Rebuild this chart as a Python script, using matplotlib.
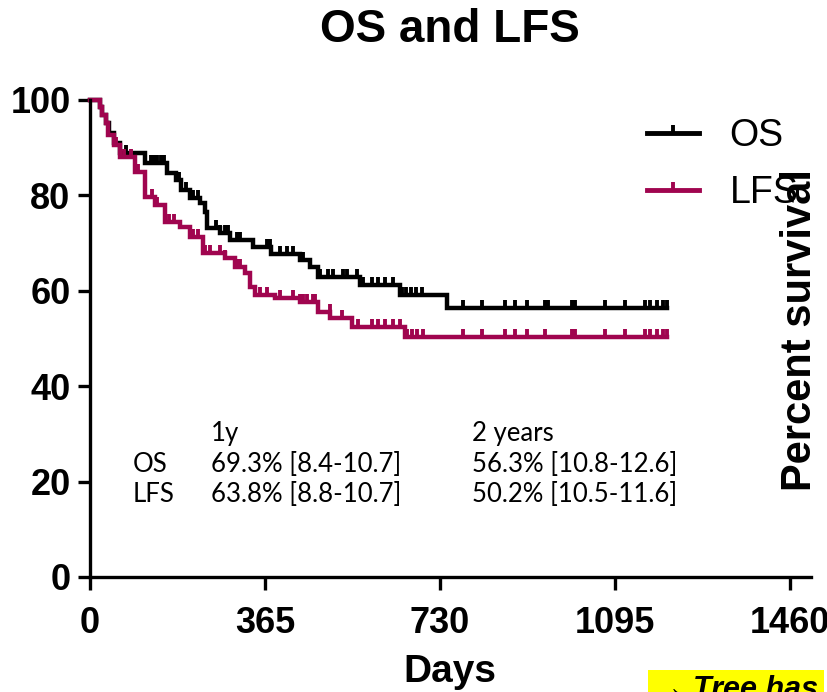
import numpy as np
import matplotlib
matplotlib.use('Agg')
import matplotlib.pyplot as plt
from matplotlib.path import Path
from matplotlib.lines import Line2D

# step curves: day of each drop and the level after it
os_days = [0, 20, 26, 33, 40, 50, 62, 115, 160, 180, 190, 208, 230, 240, 244, 271, 292, 340, 377, 438, 459, 475, 563, 647, 745, 1203]
os_surv = [100, 98.5, 96.9, 95.2, 93.1, 91.0, 88.9, 86.8, 84.7, 83.2, 81.1, 79.5, 78.4, 76.5, 73.2, 72.1, 70.6, 69.2, 67.7, 66.5, 65.0, 62.9, 61.2, 59.1, 56.4, 56.4]

lfs_days = [0, 20, 26, 33, 38, 50, 63, 94, 115, 136, 156, 188, 208, 236, 282, 302, 323, 334, 344, 386, 438, 475, 501, 547, 657, 1203]
lfs_surv = [100, 98.5, 96.9, 95.2, 92.7, 90.6, 88.1, 84.9, 79.7, 78.0, 74.4, 73.4, 71.3, 68.0, 66.9, 65.0, 63.7, 60.8, 59.1, 58.5, 57.7, 55.6, 54.3, 52.4, 50.3, 50.3]

# censored observations
os_cens = [21, 75, 128, 133, 140, 148, 155, 185, 200, 215, 225, 262, 271, 282, 288, 307, 313, 340,
           369, 375, 396, 411, 423, 438, 444, 480, 496, 507, 528, 536, 557, 569, 588, 600, 615, 632,
           650, 660, 670, 680, 692, 778, 817, 865, 886, 911, 949, 955, 1005, 1011, 1074, 1116, 1157,
           1168, 1182, 1195, 1203]
lfs_cens = [21, 55, 70, 85, 100, 130, 140, 165, 175, 215, 225, 240, 250, 271, 282, 307, 313, 334,
            355, 369, 396, 423, 438, 444, 453, 465, 469, 500, 525, 559, 588, 600, 615, 632, 646, 661,
            672, 683, 694, 778, 817, 865, 886, 911, 949, 1005, 1011, 1074, 1116, 1157, 1168, 1182,
            1195, 1203]

x_ticks = [0, 365, 730, 1095, 1460]
y_ticks = [0, 20, 40, 60, 80, 100]

table_rows = ['OS', 'LFS']
table_1y = ['69.3% [8.4-10.7]', '63.8% [8.8-10.7]']
table_2y = ['56.3% [10.8-12.6]', '50.2% [10.5-11.6]']

OS_COL = 'black'
LFS_COL = '#A0054F'

plt.rcParams['font.family'] = ['Liberation Sans', 'DejaVu Sans']

W, H = 828, 692
fig = plt.figure(figsize=(W / 100, H / 100), dpi=100)
ax = fig.add_axes([90 / W, 1 - 577 / H, 721 / W, 477 / H])

tick_marker = Path([(0, 0), (0, 1)], [Path.MOVETO, Path.LINETO])


def level_at(days, surv, t):
    i = np.searchsorted(days, t, side='right') - 1
    return np.array(surv)[i]


for days, surv, cens, col in [(os_days, os_surv, os_cens, OS_COL),
                              (lfs_days, lfs_surv, lfs_cens, LFS_COL)]:
    ax.step(days, surv, where='post', color=col, lw=3.2, clip_on=False, solid_joinstyle='miter')
    ax.plot(cens, level_at(days, surv, cens), ls='none', marker=tick_marker,
            ms=11, mew=2.8, color=col, clip_on=False)

ax.set_xlim(0, 1504)
ax.set_ylim(0, 100)
ax.set_xticks(x_ticks)
ax.set_yticks(y_ticks)
for s in ['top', 'right']:
    ax.spines[s].set_visible(False)
for s in ['left', 'bottom']:
    ax.spines[s].set_linewidth(2.4)
ax.tick_params(length=9, width=2.4, direction='out')
ax.tick_params(axis='x', pad=12)
ax.tick_params(axis='y', pad=5)
for lab in ax.get_xticklabels() + ax.get_yticklabels():
    lab.set_fontsize(26)
    lab.set_fontweight('bold')

handles = [Line2D([], [], color=OS_COL, lw=3.5, marker=tick_marker, ms=11, mew=2.8),
           Line2D([], [], color=LFS_COL, lw=3.5, marker=tick_marker, ms=11, mew=2.8)]
ax.legend(handles, ['OS', 'LFS'], loc='upper left', frameon=False, fontsize=27,
          bbox_to_anchor=(647 / W, 1 - 118 / H), bbox_transform=fig.transFigure,
          borderpad=0, borderaxespad=0, handlelength=1.4, handletextpad=0.8,
          labelspacing=0.55, numpoints=1)

fig.text(450 / W, 1 - 30 / H, 'OS and LFS', ha='center', va='center', fontsize=33, fontweight='bold')
fig.text(450 / W, 1 - 672 / H, 'Days', ha='center', va='center', fontsize=28, fontweight='bold')
fig.text(800 / W, 1 - 330 / H, 'Percent survival', ha='center', va='center', rotation=90,
         fontsize=30, fontweight='bold')

# summary table
tfont = dict(fontsize=18.5, family=['Lato', 'DejaVu Sans'], va='center', ha='left')
fig.text(211 / W, 1 - 433 / H, '1y', **tfont)
fig.text(472 / W, 1 - 433 / H, '2 years', **tfont)
for i, name in enumerate(table_rows):
    y = 1 - (464 + 30 * i) / H
    fig.text(133 / W, y, name, **tfont)
    fig.text(211 / W, y, table_1y[i], **tfont)
    fig.text(472 / W, y, table_2y[i], **tfont)

fig.text(654 / W, 1 - 690 / H, '\u2192 Tree has', fontsize=22, fontweight='bold', style='italic',
         va='center', ha='left',
         bbox=dict(facecolor='#FFFF00', edgecolor='none', pad=4))

fig.savefig('out.png', dpi=100)
